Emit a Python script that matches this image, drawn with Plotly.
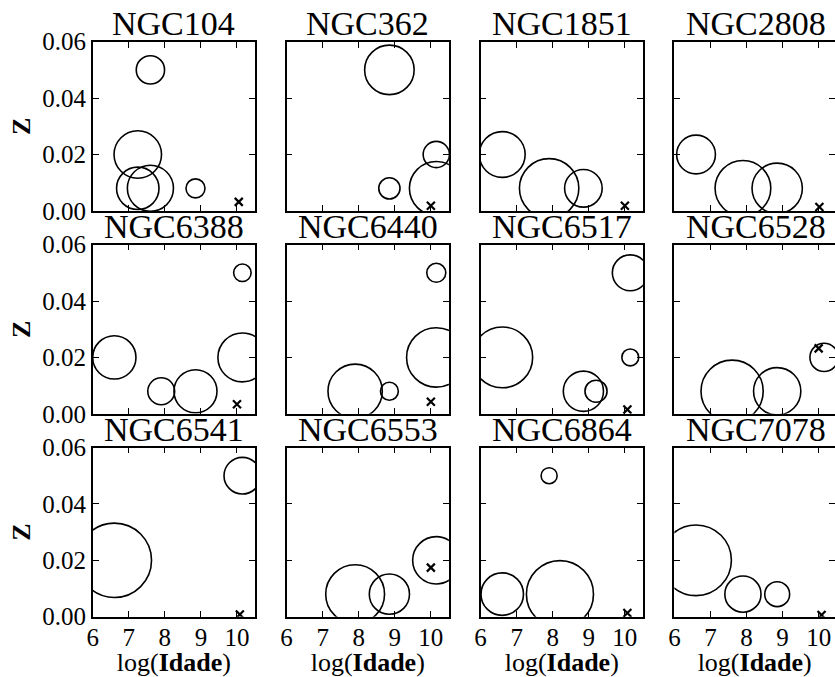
import plotly.graph_objects as go

# Cluster names, one panel each (3 rows x 4 columns)
clusters = ["NGC104", "NGC362", "NGC1851", "NGC2808",
            "NGC6388", "NGC6440", "NGC6517", "NGC6528",
            "NGC6541", "NGC6553", "NGC6864", "NGC7078"]

# Population components: log(age), metallicity and light fraction (%)
comp_logt = [
    [7.6, 7.25, 7.25, 7.6, 8.85],
    [8.85, 10.15, 8.85, 10.15],
    [6.6, 7.9, 8.85],
    [6.6, 7.9, 8.85],
    [6.6, 7.9, 8.85, 10.15, 10.15],
    [7.9, 8.85, 10.15, 10.15],
    [6.6, 8.85, 9.2, 10.15, 10.15],
    [7.6, 8.85, 10.15],
    [10.15, 6.6],
    [7.9, 8.85, 10.15],
    [7.9, 6.6, 8.2],
    [6.6, 7.9, 8.85],
]
comp_z = [
    [0.05, 0.02, 0.008, 0.008, 0.008],
    [0.05, 0.02, 0.008, 0.008],
    [0.02, 0.008, 0.008],
    [0.02, 0.008, 0.008],
    [0.02, 0.008, 0.008, 0.05, 0.02],
    [0.008, 0.008, 0.05, 0.02],
    [0.02, 0.008, 0.008, 0.05, 0.02],
    [0.008, 0.008, 0.02],
    [0.05, 0.02],
    [0.008, 0.008, 0.02],
    [0.05, 0.008, 0.008],
    [0.02, 0.008, 0.008],
]
comp_frac = [
    [11.5, 32.4, 25.9, 30.5, 5.2],
    [35.2, 9.9, 6.5, 41.5],
    [30.2, 50.7, 20.3],
    [21.6, 44.6, 36.4],
    [26.9, 10.4, 26.6, 4.4, 34.4],
    [42.4, 4.6, 5.2, 50.7],
    [53.1, 23.2, 7.0, 18.5, 4.1],
    [55.6, 32.1, 11.5],
    [19.4, 79.5],
    [49.7, 23.2, 32.1],
    [3.7, 25.9, 64.6],
    [71.8, 18.8, 8.9],
]

# Literature values for each cluster (cross marker)
ref_logt = [10.05, 10.0, 10.0, 10.02, 10.0, 10.0, 10.07, 10.0, 10.08, 10.0, 10.07, 10.08]
ref_z = [0.0032, 0.0018, 0.0018, 0.0014, 0.0034, 0.0043, 0.0015, 0.0232, 0.0008, 0.0174, 0.0013, 0.0006]

x_ticks = [6, 7, 8, 9, 10]
y_ticks = [0.0, 0.02, 0.04, 0.06]
y_tick_text = ["0.00", "0.02", "0.04", "0.06"]

W, H = 835, 677
col_left = [92.7, 286.6, 480.6, 674.4]
row_top = [41.7, 244.6, 447.5]
panel_w = 162.3
panel_h = 169.2
px_per_unit = panel_w / 4.5

FONT = "'Liberation Serif', 'Times New Roman', serif"
tick_font = dict(family=FONT, size=25, color="black")
label_font = dict(family=FONT, size=26, color="black")

fig = go.Figure()
layout = {}
annotations = []

for i, name in enumerate(clusters):
    r, c = divmod(i, 4)
    n = i + 1
    xref = "x" if n == 1 else f"x{n}"
    yref = "y" if n == 1 else f"y{n}"

    fig.add_trace(go.Scatter(
        x=comp_logt[i], y=comp_z[i], mode="markers",
        marker=dict(symbol="circle-open", size=comp_frac[i], sizemode="area",
                    sizeref=1 / 34.8, color="black", opacity=1,
                    line=dict(color="black", width=1.6)),
        xaxis=xref, yaxis=yref, showlegend=False, hoverinfo="skip"))
    fig.add_trace(go.Scatter(
        x=[ref_logt[i]], y=[ref_z[i]], mode="markers",
        marker=dict(symbol="x-thin", size=8, color="black", opacity=1,
                    line=dict(color="black", width=2.2)),
        xaxis=xref, yaxis=yref, showlegend=False, hoverinfo="skip"))

    x0 = col_left[c]
    x1 = min(x0 + panel_w, W)
    y_top = row_top[r]
    y_bot = y_top + panel_h
    xmax = 6 + (x1 - x0) / px_per_unit

    xa = dict(domain=[x0 / W, x1 / W], range=[6, xmax], anchor=yref,
              tickvals=x_ticks, ticks="inside", ticklen=6, tickwidth=1.3,
              tickcolor="black", showline=True, linecolor="black", linewidth=1.6,
              mirror="ticks", showgrid=False, zeroline=False, automargin=False,
              showticklabels=(r == 2), tickfont=tick_font, ticklabelstandoff=-3)
    if r == 2:
        xa["title"] = dict(text="log(<b>Idade</b>)", font=label_font, standoff=5)
    ya = dict(domain=[1 - y_bot / H, 1 - y_top / H], range=[0, 0.06], anchor=xref,
              tickvals=y_ticks, ticktext=y_tick_text, ticks="inside", ticklen=6,
              tickwidth=1.3, tickcolor="black", showline=True, linecolor="black",
              linewidth=1.6, mirror="ticks", showgrid=False, zeroline=False,
              automargin=False, showticklabels=(c == 0), tickfont=tick_font)
    if c == 0:
        ya["title"] = dict(text="<b>Z</b>", font=label_font, standoff=4)
    layout["xaxis" if n == 1 else f"xaxis{n}"] = xa
    layout["yaxis" if n == 1 else f"yaxis{n}"] = ya

    annotations.append(dict(
        text=name, x=(x0 + panel_w / 2) / W, y=1 - y_top / H,
        xref="paper", yref="paper", xanchor="center", yanchor="bottom",
        showarrow=False, yshift=-2, font=dict(family=FONT, size=34, color="black")))

fig.update_layout(**layout)
fig.update_layout(
    width=W, height=H, margin=dict(l=0, r=0, t=0, b=0, autoexpand=False),
    paper_bgcolor="white", plot_bgcolor="white",
    annotations=annotations, font=dict(family=FONT, color="black"))

fig.write_html("out.html")
